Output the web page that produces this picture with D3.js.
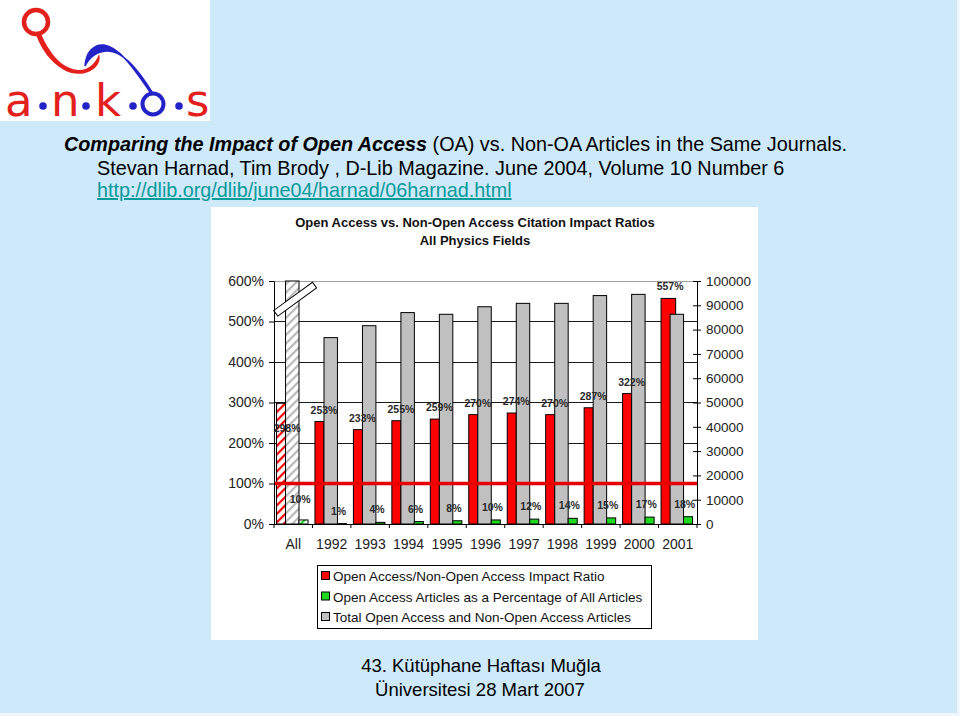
<!DOCTYPE html>
<html><head><meta charset="utf-8">
<script src="https://cdn.jsdelivr.net/npm/d3@7"></script>
<style>
html,body{margin:0;padding:0;background:#cde9fa;}
svg{display:block;}
text{font-family:"Liberation Sans",Arial,sans-serif;}
</style></head>
<body>
<svg id="c" width="960" height="716"></svg>
<script>
// ---------------- data ----------------
const categories = ["All","1992","1993","1994","1995","1996","1997","1998","1999","2000","2001"];
const impactRatio = [298,253,233,255,259,270,274,270,287,322,557];          // % (left axis)
const oaPercent   = [10,1,4,6,8,10,12,14,15,17,18];                          // % (left axis)
const totalArticles = [250000,76700,81600,87000,86300,89400,90800,90800,94000,94500,86300]; // right axis (All is off-scale / broken)
const leftTicks  = [0,100,200,300,400,500,600];
const rightTicks = [0,10000,20000,30000,40000,50000,60000,70000,80000,90000,100000];
const legendLabels = ["Open Access/Non-Open Access Impact Ratio",
                      "Open Access Articles as a Percentage of All Articles",
                      "Total Open Access and Non-Open Access Articles"];
const chartTitle = ["Open Access vs. Non-Open Access Citation Impact Ratios","All Physics Fields"];

// ---------------- setup ----------------
const svg = d3.select("#c");
const RED="#ff0000", GREY="#c0c0c0", GREEN="#1fd81f", BLUE="#2323c8", LRED="#e3201b";

// page frame
svg.append("rect").attr("x",0).attr("y",0).attr("width",960).attr("height",716).attr("fill","#cde9fa");
svg.append("rect").attr("x",957).attr("y",0).attr("width",3).attr("height",716).attr("fill","#eef7fd");
svg.append("rect").attr("x",0).attr("y",713).attr("width",960).attr("height",3).attr("fill","#eef7fd");

// ---------------- logo ----------------
const logo = svg.append("g");
logo.append("rect").attr("x",0).attr("y",0).attr("width",210).attr("height",121).attr("fill","#ffffff");
logo.append("path").attr("d","M36,35 C42,50 50,62 64,70 C77,77 92,74 98,64 C100,60 100,57 99,54 C96,62 90,70 79,70 C64,69 52,58 41,34 Z")
  .attr("fill",LRED);
logo.append("circle").attr("cx",36).attr("cy",22).attr("r",12).attr("fill","#fff").attr("stroke",LRED).attr("stroke-width",4.5);
logo.append("path").attr("d","M85,66 C86,52 94,44 104,45 C118,47 131,64 150,92 L152,92 C136,66 121,51 108,51 C98,51 90,56 85,66 Z")
  .attr("fill",BLUE).attr("stroke",BLUE).attr("stroke-width",1.5);
const lf = "font-size:45px;font-weight:normal;font-family:'DejaVu Sans','Liberation Sans',sans-serif;";
logo.append("text").attr("x",5).attr("y",116).attr("style",lf).attr("fill",LRED).text("a");
logo.append("text").attr("x",51).attr("y",116).attr("style",lf).attr("fill",LRED).text("n");
logo.append("text").attr("x",95).attr("y",116).attr("style",lf).attr("fill",LRED).text("k");
logo.append("text").attr("x",186).attr("y",116).attr("style",lf).attr("fill",LRED).text("s");
logo.append("circle").attr("cx",153).attr("cy",104).attr("r",10.5).attr("fill","none").attr("stroke",BLUE).attr("stroke-width",4);
[43,86,133,179].forEach(x=>logo.append("circle").attr("cx",x).attr("cy",106).attr("r",3.8).attr("fill",BLUE));

// ---------------- header text ----------------
const h = svg.append("text").attr("x",64).attr("y",151).attr("font-size",19.8).attr("fill","#000");
h.append("tspan").attr("font-weight","bold").attr("font-style","italic").text("Comparing the Impact of Open Access");
h.append("tspan").text(" (OA) vs. Non-OA Articles in the Same Journals.");
svg.append("text").attr("x",97).attr("y",175).attr("font-size",19.8).attr("fill","#000")
  .text("Stevan Harnad, Tim Brody , D-Lib Magazine. June 2004, Volume 10 Number 6");
svg.append("text").attr("x",97).attr("y",197).attr("font-size",19.8).attr("fill","#079a9a")
  .attr("text-decoration","underline").text("http://dlib.org/dlib/june04/harnad/06harnad.html");

// footer
svg.append("text").attr("x",481).attr("y",672).attr("text-anchor","middle").attr("font-size",18.5).text("43. Kütüphane Haftası Muğla");
svg.append("text").attr("x",480).attr("y",696).attr("text-anchor","middle").attr("font-size",18.5).text("Üniversitesi 28 Mart 2007");

// ---------------- chart panel ----------------
svg.append("rect").attr("x",211).attr("y",207).attr("width",547).attr("height",433).attr("fill","#fff");
chartTitle.forEach((t,i)=>svg.append("text").attr("x",475).attr("y",227+i*18).attr("text-anchor","middle")
  .attr("font-size",13).attr("font-weight","bold").attr("fill","#111").text(t));

// patterns
const defs = svg.append("defs");
function hatch(id, color, sw){
  const p = defs.append("pattern").attr("id",id).attr("patternUnits","userSpaceOnUse")
    .attr("width",6).attr("height",6).attr("patternTransform","rotate(45)");
  p.append("rect").attr("width",6).attr("height",6).attr("fill","#fff");
  p.append("rect").attr("x",0).attr("y",0).attr("width",sw).attr("height",6).attr("fill",color);
}
hatch("hRed",RED,2.2); hatch("hGrey","#b8b8b8",2.2); hatch("hGreen",GREEN,2.2);

const X0=274, X1=697, Y0=524, Y1=281;
const x = d3.scaleBand().domain(categories).range([X0,X1]).padding(0);
const yL = d3.scaleLinear().domain([0,600]).range([Y0,Y1]);
const yR = d3.scaleLinear().domain([0,100000]).range([Y0,Y1]);
const bw = x.bandwidth();

// gridlines
const g = svg.append("g");
leftTicks.forEach(v=>{
  g.append("line").attr("x1",X0).attr("x2",X1).attr("y1",yL(v)).attr("y2",yL(v))
   .attr("stroke", v===600 ? "#a0a0a0" : "#1a1a1a").attr("stroke-width",1).attr("shape-rendering","crispEdges");
});

// bars
const bars = svg.append("g").attr("stroke","#000").attr("stroke-width",1);
categories.forEach((c,i)=>{
  const bx = x(c);
  const isAll = i===0;
  const wide = c==="2001";
  bars.append("rect").attr("x",bx+bw*0.065).attr("y",yL(impactRatio[i]))
    .attr("width", wide ? bw*0.38 : bw*0.235).attr("height",Y0-yL(impactRatio[i]))
    .attr("fill", isAll ? "url(#hRed)" : RED);
});
categories.forEach((c,i)=>{
  const bx = x(c);
  const isAll = i===0;
  const v = Math.min(totalArticles[i], 100000);
  bars.append("rect").attr("x",bx+bw*0.3).attr("y",yR(v))
    .attr("width",bw*0.35).attr("height",Y0-yR(v))
    .attr("fill", isAll ? "url(#hGrey)" : GREY);
  bars.append("rect").attr("x",bx+bw*0.65).attr("y",yL(oaPercent[i]))
    .attr("width",bw*0.235).attr("height",Y0-yL(oaPercent[i]))
    .attr("fill", isAll ? "url(#hGreen)" : GREEN);
});

// axis break symbol on the "All" total bar
svg.append("rect").attr("x",-24).attr("y",-3.5).attr("width",48).attr("height",7)
  .attr("fill","#fff").attr("stroke","#000").attr("stroke-width",1)
  .attr("transform",`translate(${x("All")+bw*0.55},${yL(555)}) rotate(-36)`);

// 100% reference line
svg.append("line").attr("x1",X0).attr("x2",X1).attr("y1",yL(100)).attr("y2",yL(100))
  .attr("stroke","#e60000").attr("stroke-width",3.5);

// axes
const axL = svg.append("g").attr("transform",`translate(${X0},0)`)
  .call(d3.axisLeft(yL).tickValues(leftTicks).tickFormat(d=>d+"%").tickSize(5).tickSizeOuter(0).tickPadding(5));
axL.select(".domain").attr("stroke","#000");
axL.selectAll("text").attr("font-size",14).attr("fill","#222").attr("font-family","Liberation Sans, Arial, sans-serif");

const axR = svg.append("g").attr("transform",`translate(${X1},0)`)
  .call(d3.axisRight(yR).tickValues(rightTicks).tickFormat(d3.format("d")).tickSize(4).tickSizeOuter(0).tickPadding(5));
axR.select(".domain").attr("stroke","#000");
axR.selectAll(".tick line").attr("x1",-4).attr("stroke","#000");
axR.selectAll("text").attr("font-size",13.5).attr("fill","#222").attr("font-family","Liberation Sans, Arial, sans-serif");

// x axis baseline, boundary ticks & labels
svg.append("line").attr("x1",X0).attr("x2",X1).attr("y1",Y0).attr("y2",Y0).attr("stroke","#000").attr("shape-rendering","crispEdges");
categories.forEach((c,i)=>{
  svg.append("line").attr("x1",x(c)).attr("x2",x(c)).attr("y1",Y0).attr("y2",Y0+4).attr("stroke","#000");
  svg.append("text").attr("x",x(c)+bw/2).attr("y",Y0+25).attr("text-anchor","middle")
    .attr("font-size",14).attr("fill","#222").text(c);
});
svg.append("line").attr("x1",X1).attr("x2",X1).attr("y1",Y0).attr("y2",Y0+4).attr("stroke","#000");

// data labels
const lab = svg.append("g").attr("font-size",10.5).attr("font-weight","bold").attr("fill","#2a2a2a").attr("text-anchor","middle");
categories.forEach((c,i)=>{
  const bx = x(c);
  const ry = yL(impactRatio[i]);
  lab.append("text").attr("x",bx+bw*(i===0?0.34:0.3)).attr("y", i===0 ? ry+29 : ry-8).text(impactRatio[i]+"%");
  const gy = yL(oaPercent[i]);
  lab.append("text").attr("x",bx+bw*0.68).attr("y", i===0 ? gy-17 : gy-9).text(oaPercent[i]+"%");
});

// legend
const LG = svg.append("g");
LG.append("rect").attr("x",317.5).attr("y",565.5).attr("width",334).attr("height",63).attr("fill","#fff").attr("stroke","#000");
[RED,GREEN,GREY].forEach((col,i)=>{
  const cy = 576 + i*20.5;
  LG.append("rect").attr("x",321.5).attr("y",cy-4.5).attr("width",8).attr("height",8).attr("fill",col).attr("stroke","#000");
  LG.append("text").attr("x",333).attr("y",cy+5).attr("font-size",13.5).attr("fill","#111").text(legendLabels[i]);
});
</script>
</body></html>
